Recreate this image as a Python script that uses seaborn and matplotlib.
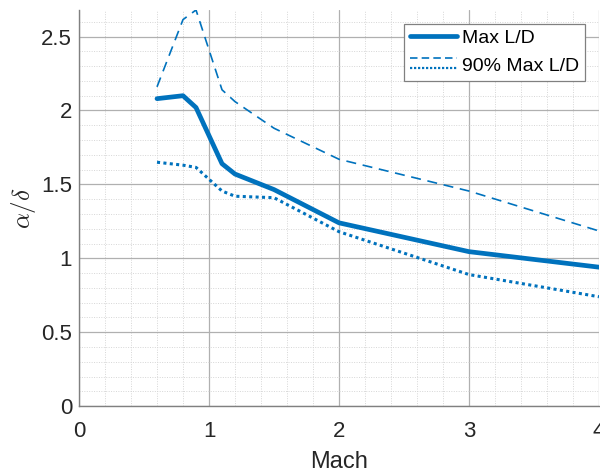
import numpy as np
import pandas as pd
import matplotlib
matplotlib.use('Agg')
import matplotlib.pyplot as plt
from matplotlib.ticker import MultipleLocator
from matplotlib.lines import Line2D
from matplotlib.legend_handler import HandlerBase
import seaborn as sns

# Data
mach = [0.6, 0.8, 0.9, 1.1, 1.2, 1.5, 2.0, 3.0, 4.0]
max_ld = [2.08, 2.10, 2.02, 1.64, 1.57, 1.465, 1.24, 1.045, 0.94]
max_ld_90_hi = [2.16, 2.615, 2.68, 2.14, 2.06, 1.88, 1.67, 1.455, 1.185]
max_ld_90_lo = [1.65, 1.63, 1.615, 1.455, 1.42, 1.41, 1.18, 0.89, 0.74]

sns.set_style('white')
plt.rcParams['font.family'] = ['Liberation Sans', 'DejaVu Sans']
plt.rcParams['mathtext.fontset'] = 'cm'

blue = '#0072BD'
txt = '#262626'

fig = plt.figure(figsize=(6, 4.75), dpi=100)
ax = fig.add_axes([0.1317, 0.145, 0.8666, 0.834])

sns.lineplot(x=mach, y=max_ld, ax=ax, color=blue, linewidth=3.4)
sns.lineplot(x=mach, y=max_ld_90_hi, ax=ax, color=blue, linewidth=1.2)
ax.lines[-1].set_dashes([6, 4])
sns.lineplot(x=mach, y=max_ld_90_lo, ax=ax, color=blue, linewidth=2.2)
ax.lines[-1].set_dashes([1, 1.1])

ax.set_xlim(0, 4)
ax.set_ylim(0, 2.68)
ax.xaxis.set_major_locator(MultipleLocator(1))
ax.xaxis.set_minor_locator(MultipleLocator(0.2))
ax.yaxis.set_minor_locator(MultipleLocator(0.1))
ax.set_yticks([0, 0.5, 1, 1.5, 2, 2.5])
ax.set_yticklabels(['0', '0.5', '1', '1.5', '2', '2.5'])

ax.grid(which='major', color='#b0b0b0', linewidth=0.9, linestyle='-')
ax.grid(which='minor', color='#d6d6d6', linewidth=0.7, linestyle=(0, (1, 1.5)))
ax.set_axisbelow(True)

for s in ['top', 'right']:
    ax.spines[s].set_visible(False)
for s in ['left', 'bottom']:
    ax.spines[s].set_color('#808080')
    ax.spines[s].set_linewidth(1.0)

ax.tick_params(which='major', direction='in', length=5, width=0.8, colors='#808080',
               labelcolor=txt, labelsize=16)
ax.tick_params(axis='x', pad=10.5)
ax.tick_params(axis='y', pad=5)
ax.tick_params(which='minor', length=0)

ax.set_xlabel('Mach', fontsize=17, color=txt, labelpad=7)
ax.set_ylabel(r'$\alpha/\delta$', fontsize=18, color=txt, labelpad=2)


class DashDotHandler(HandlerBase):
    # dashed line on top, dotted line below, in one legend entry
    def create_artists(self, legend, orig_handle, xdescent, ydescent,
                       width, height, fontsize, trans):
        yc = height / 2 - ydescent
        x0, x1 = -xdescent, -xdescent + width
        top = Line2D([x0, x1], [yc + 4.2, yc + 4.2], color=blue, linewidth=1.2,
                     dashes=[4.5, 2.5], transform=trans)
        bot = Line2D([x0, x1], [yc - 2.8, yc - 2.8], color=blue, linewidth=1.6,
                     dashes=[1, 0.8], transform=trans)
        return [top, bot]


h_solid = Line2D([], [], color=blue, linewidth=3.4)
h_90 = Line2D([], [], color=blue)
leg = ax.legend([h_solid, h_90], ['Max L/D', '90% Max L/D'], loc='upper right',
                handler_map={h_90: DashDotHandler()},
                fontsize=14, frameon=True, fancybox=False, edgecolor='#808080',
                framealpha=1, handlelength=2.45, handletextpad=0.26,
                borderpad=0.3, labelspacing=0.52, borderaxespad=0.7)
leg.get_frame().set_linewidth(0.9)
for t in leg.get_texts():
    t.set_color('black')

fig.savefig('out.png', dpi=100)
